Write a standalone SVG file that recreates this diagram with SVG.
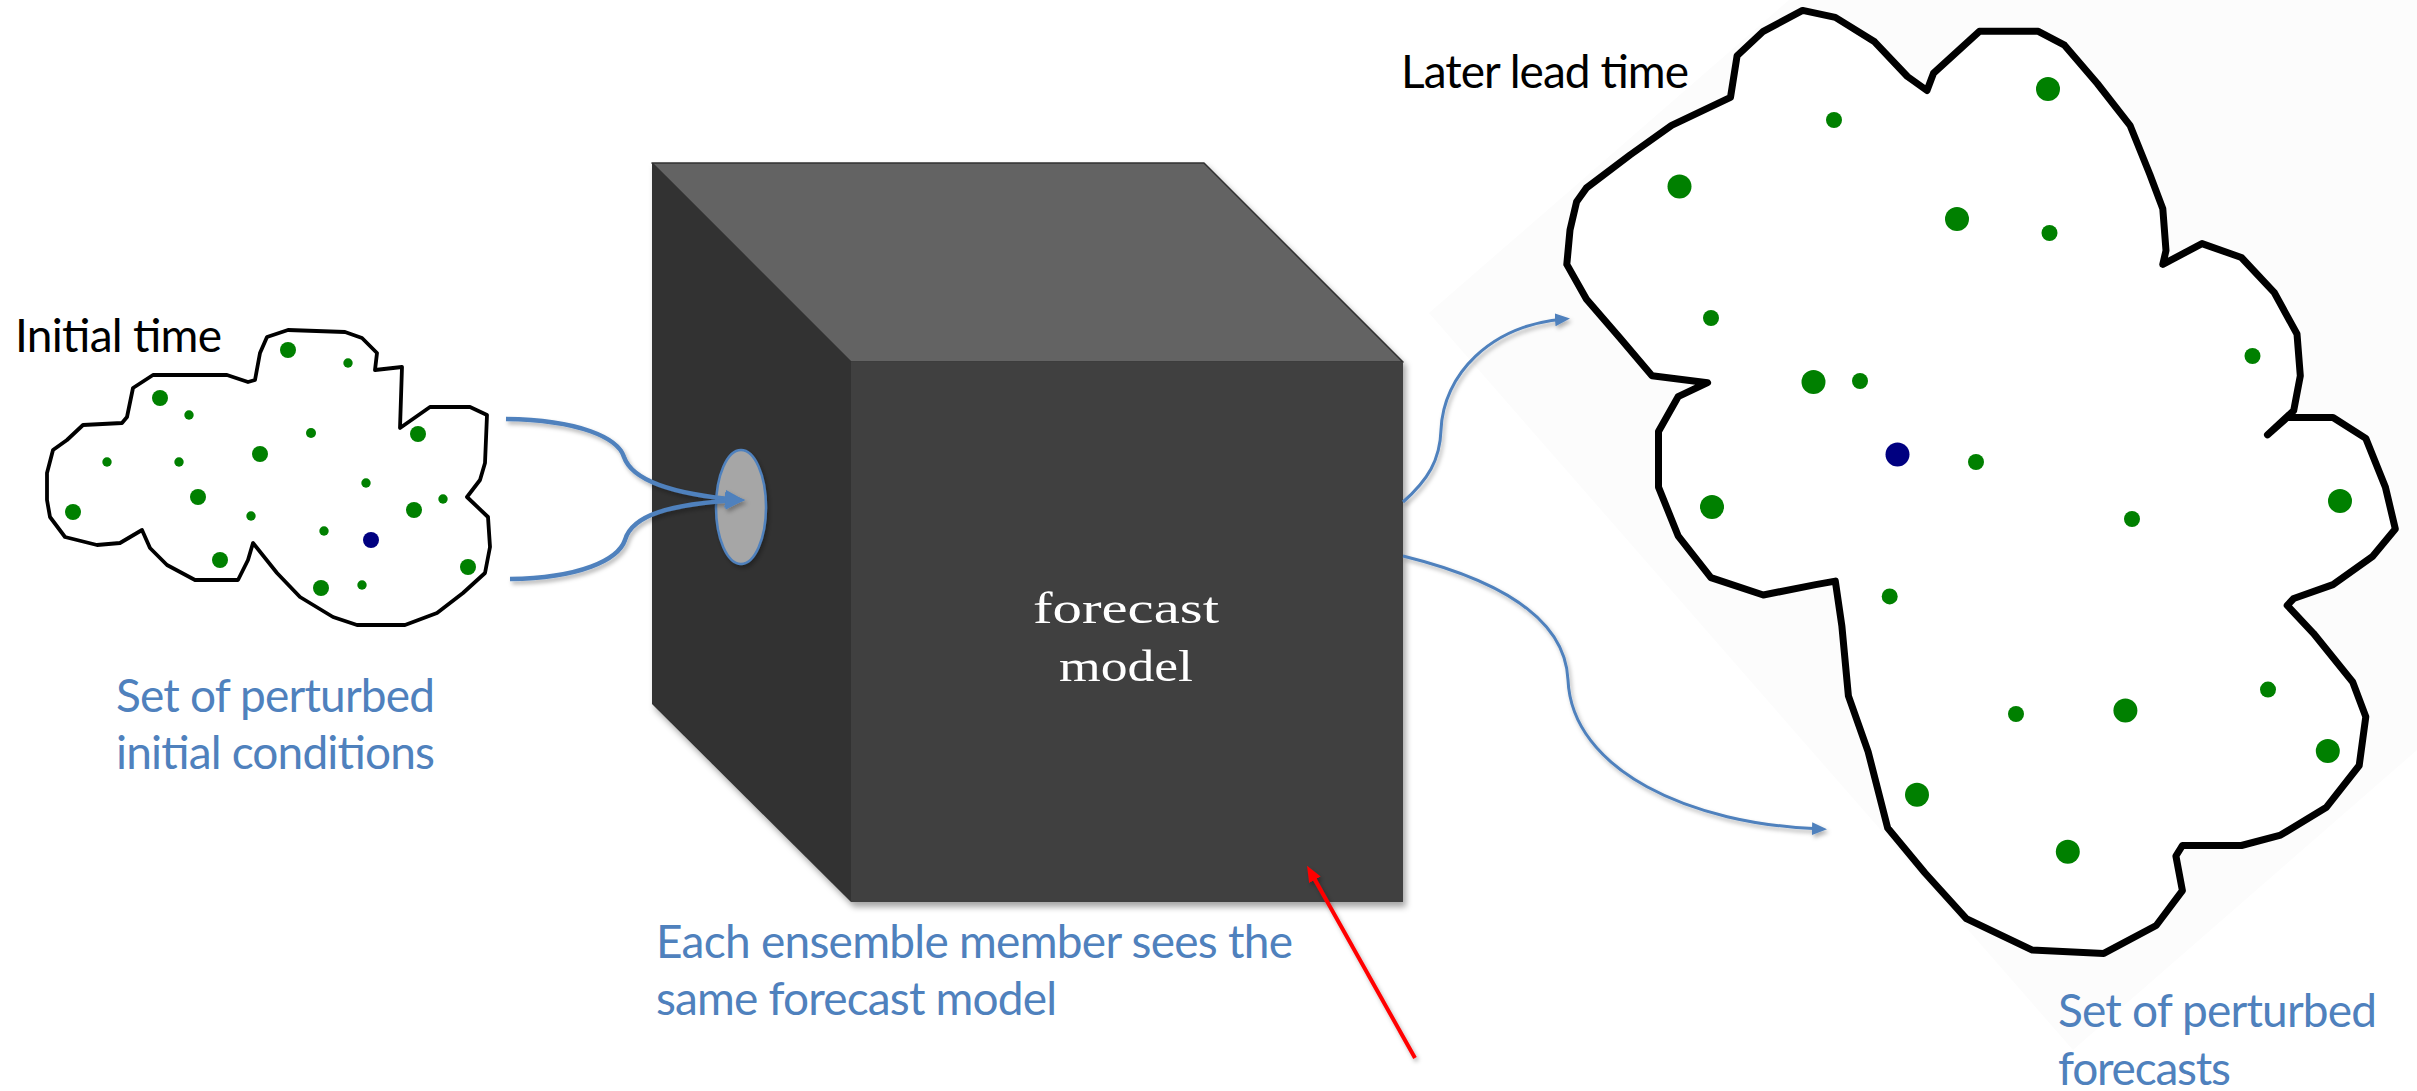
<svg xmlns="http://www.w3.org/2000/svg" width="2417" height="1091" viewBox="0 0 2417 1091">
<defs>
<style>
.lbl{font-family:Lato,'Liberation Sans',sans-serif;font-size:46px;}
.blk{fill:#000}
.blu{fill:#4f81bd}
.serif{font-family:'Liberation Serif',serif;font-size:44px;fill:#fff;text-anchor:middle}
.cloudL{fill:#fff;stroke:#000;stroke-width:3.8;stroke-linejoin:round}
.cloudR{fill:#fff;stroke:#000;stroke-width:7;stroke-linejoin:round}
.g{fill:#008000}
.n{fill:#000080}
.conn{fill:none;stroke:#4f81bd;stroke-linecap:butt}
</style>
<filter id="sh" x="-10%" y="-10%" width="130%" height="130%"><feDropShadow dx="3" dy="5" stdDeviation="3" flood-color="#000" flood-opacity="0.35"/></filter>
<filter id="ash" x="-10%" y="-10%" width="130%" height="130%"><feDropShadow dx="2" dy="3" stdDeviation="2" flood-color="#000" flood-opacity="0.3"/></filter>
<marker id="ahL" markerUnits="userSpaceOnUse" viewBox="0 0 20 18" refX="14" refY="9" markerWidth="20" markerHeight="18" orient="auto"><path d="M0,0 L20,9 L0,18 z" fill="#4f81bd"/></marker>
<marker id="ahR" markerUnits="userSpaceOnUse" viewBox="0 0 15 13" refX="10" refY="6.5" markerWidth="15" markerHeight="13" orient="auto"><path d="M0,0 L15,6.5 L0,13 z" fill="#4f81bd"/></marker>
<marker id="ahRed" markerUnits="userSpaceOnUse" viewBox="0 0 16 13" refX="10" refY="6.5" markerWidth="16" markerHeight="13" orient="auto"><path d="M0,0 L16,6.5 L0,13 z" fill="#ff0000"/></marker>
</defs>
<rect width="2417" height="1091" fill="#fff"/>
<polygon points="1429,313 1789,0 2417,0 2417,750 2073,1050" fill="#fcfcfc"/>

<g id="initial-cloud">
<polygon class="cloudL" points="288,330 345,332 362,338 377,353 375,370 402,367 400,428 430,407 470,407 487,415 485,463 480,480 467,497 488,517 490,547 485,573 463,593 437,613 405,625 357,625 333,617 300,597 277,573 253,543 248,560 238,580 195,580 167,565 150,548 142,530 120,543 97,545 65,537 50,517 47,500 47,473 53,450 67,440 83,425 122,423 127,417 133,388 153,375 227,375 248,382 255,380 260,353 267,337"/>
<circle class="g" cx="288" cy="350" r="8"/>
<circle class="g" cx="348" cy="363" r="4.7"/>
<circle class="g" cx="160" cy="398" r="8"/>
<circle class="g" cx="189" cy="415" r="4.7"/>
<circle class="g" cx="311" cy="433" r="5"/>
<circle class="g" cx="418" cy="434" r="8"/>
<circle class="g" cx="260" cy="454" r="8"/>
<circle class="g" cx="107" cy="462" r="4.7"/>
<circle class="g" cx="179" cy="462" r="4.7"/>
<circle class="g" cx="366" cy="483" r="4.7"/>
<circle class="g" cx="198" cy="497" r="8"/>
<circle class="g" cx="443" cy="499" r="4.7"/>
<circle class="g" cx="73" cy="512" r="8"/>
<circle class="g" cx="414" cy="510" r="8"/>
<circle class="g" cx="251" cy="516" r="4.7"/>
<circle class="g" cx="324" cy="531" r="4.7"/>
<circle class="n" cx="371" cy="540" r="8"/>
<circle class="g" cx="220" cy="560" r="8"/>
<circle class="g" cx="468" cy="567" r="8"/>
<circle class="g" cx="321" cy="588" r="8"/>
<circle class="g" cx="362" cy="585" r="4.7"/>
</g>

<g id="later-cloud">
<polygon class="cloudR" points="1566.8,264.4 1570,230 1576.6,201.8 1586.5,187.9 1630,155 1671.6,125.3 1730.5,97.4 1737.1,55.7 1763.3,31.3 1802.6,10.4 1835.3,17.4 1874.6,41.8 1907.4,76.5 1927,90.5 1933.6,73.1 1979.4,31.3 2038.3,31.3 2064.5,45.2 2097.3,83.5 2130,125.3 2149.7,174 2162.8,208.8 2166,250.5 2162.8,264.4 2202,243.6 2241.4,257.5 2274.1,292.3 2297,334 2300.3,375.8 2293.7,410.6 2267.5,434.9 2287.2,417.5 2333,417.5 2365.8,438.4 2385.4,487.1 2395.3,528.9 2372.3,556.7 2333,584.6 2293.7,598.5 2287.2,605.4 2313.4,633.3 2352.7,682 2365.8,716.8 2359.2,765.5 2326.5,807.2 2280.6,835.1 2241.4,845.5 2182.4,845.5 2175.9,856 2182.4,890.7 2156.2,925.5 2103.8,953.4 2031.8,949.9 1966.3,918.6 1925,873 1887.7,828.1 1868.1,751.6 1848.4,695.9 1841.9,626.3 1835.3,581.1 1815.7,584.6 1763.3,595 1710.9,577.6 1678.1,535.8 1658.5,487.1 1658.5,431.5 1678.1,396.7 1707.6,382.7 1652,375.8 1620,338 1586.5,299.2"/>
<circle class="g" cx="2048" cy="89" r="12"/>
<circle class="g" cx="1834" cy="120" r="8"/>
<circle class="g" cx="1679.5" cy="186.5" r="12"/>
<circle class="g" cx="1957" cy="219" r="12"/>
<circle class="g" cx="2049.5" cy="233" r="8"/>
<circle class="g" cx="1711" cy="318" r="8"/>
<circle class="g" cx="2252.5" cy="356" r="8"/>
<circle class="g" cx="1813.5" cy="382" r="12"/>
<circle class="g" cx="1860" cy="381" r="8"/>
<circle class="n" cx="1897.5" cy="454.5" r="12"/>
<circle class="g" cx="1976" cy="462" r="8"/>
<circle class="g" cx="1712" cy="507" r="12"/>
<circle class="g" cx="2340" cy="501" r="12"/>
<circle class="g" cx="2132" cy="519" r="8"/>
<circle class="g" cx="1889.7" cy="596.4" r="8"/>
<circle class="g" cx="2268" cy="689.6" r="8"/>
<circle class="g" cx="2016" cy="714" r="8"/>
<circle class="g" cx="2125.4" cy="710.5" r="12"/>
<circle class="g" cx="2327.8" cy="751" r="12"/>
<circle class="g" cx="1917" cy="794.7" r="12"/>
<circle class="g" cx="2067.8" cy="851.8" r="12"/>
</g>

<g id="forecast-model-cube">
<g filter="url(#sh)">
<polygon points="652,163 851,362 851,902 652,704" fill="#333333"/>
<polygon points="652,163 1204,163 1403,362 851,362" fill="#646464" stroke="#303030" stroke-width="1.5" stroke-linejoin="round"/>
<rect x="851" y="362" width="552" height="540" fill="#404040"/>
</g>
<text class="serif" x="1126" y="623" textLength="186" lengthAdjust="spacingAndGlyphs">forecast</text>
<text class="serif" x="1126" y="681" textLength="134" lengthAdjust="spacingAndGlyphs">model</text>
</g>

<g id="entry-port">
<ellipse cx="741" cy="507" rx="25" ry="57" fill="#a6a6a6" stroke="#4f81bd" stroke-width="2.5" filter="url(#ash)"/>
</g>

<g id="connectors">
<g filter="url(#ash)">
<path class="conn" stroke-width="4.5" marker-end="url(#ahL)" d="M506,419 C580,420 618,438 624,457 C632,480 670,494 739,500"/>
<path class="conn" stroke-width="4.5" marker-end="url(#ahL)" d="M510,579 C580,578 618,560 625,540 C632,515 670,504 739,500"/>
<path class="conn" stroke-width="3" marker-end="url(#ahR)" d="M1403,502 C1428,480 1440,460 1441,430 C1443,375 1490,325 1565,319"/>
<path class="conn" stroke-width="3" marker-end="url(#ahR)" d="M1403,556 C1480,575 1565,610 1568,680 C1572,770 1690,825 1822,829"/>
<line x1="1415" y1="1058" x2="1310" y2="871" stroke="#ff0000" stroke-width="4" marker-end="url(#ahRed)"/>
</g>
</g>

<g id="labels">
<text class="lbl blk" x="15" y="352" textLength="207">Initial time</text>
<text class="lbl blk" x="1401" y="88" textLength="288">Later lead time</text>
<text class="lbl blu" x="116" y="712" textLength="319">Set of perturbed</text>
<text class="lbl blu" x="116" y="769" textLength="319">initial conditions</text>
<text class="lbl blu" x="656" y="958" textLength="637">Each ensemble member sees the</text>
<text class="lbl blu" x="656" y="1015" textLength="401">same forecast model</text>
<text class="lbl blu" x="2058" y="1027" textLength="319">Set of perturbed</text>
<text class="lbl blu" x="2058" y="1085" textLength="173">forecasts</text>
</g>
</svg>
